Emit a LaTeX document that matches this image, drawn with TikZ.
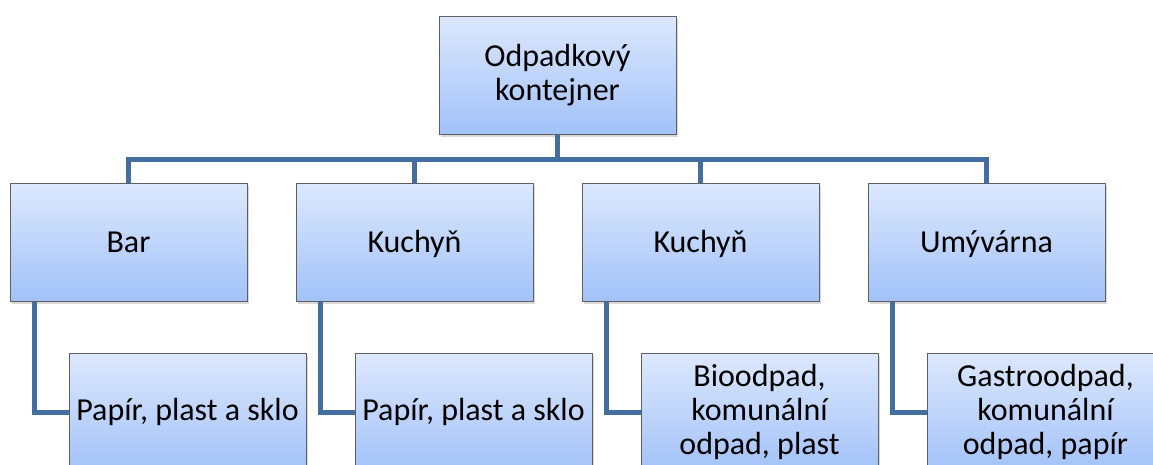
\documentclass[tikz,border=0pt]{standalone}
\usepackage{fontspec}
\setmainfont{Carlito}
\usetikzlibrary{positioning,shadows}

\definecolor{boxtop}{RGB}{221,232,253}
\definecolor{boxbot}{RGB}{162,194,249}
\definecolor{boxedge}{RGB}{95,95,95}
\definecolor{linkblue}{RGB}{66,110,160}

\begin{document}
\begin{tikzpicture}[x=1pt,y=1pt,node distance=48pt,
  box/.style={draw=boxedge,line width=1pt,top color=boxtop,bottom color=boxbot,
    minimum width=237pt,minimum height=118pt,align=center,inner sep=2pt,
    font=\fontsize{32}{34}\selectfont,
    drop shadow={shadow xshift=2pt,shadow yshift=-3pt,opacity=.3}},
  room/.style={box,text height=24pt,text depth=4pt},
  link/.style={draw=linkblue,line width=5pt}]

  \useasboundingbox (0,0) rectangle (1153,-464);

  \node[box] (top) at (557.5,-75) {Odpadkový\\kontejner};
  \coordinate (bus) at (0,-159);

  \node[room] (bar) at (128.5,-242) {Bar};
  \node[room] (kuch1) [right=of bar] {Kuchyň};
  \node[room] (kuch2) [right=of kuch1] {Kuchyň};
  \node[room] (umyv) [right=of kuch2] {Umývárna};

  \node[box,anchor=north west] (barodp) at ([shift={(59,-51)}]bar.south west) {Papír, plast a sklo};
  \node[box,anchor=north west] (kuch1odp) at ([shift={(59,-51)}]kuch1.south west) {Papír, plast a sklo};
  \node[box,anchor=north west] (kuch2odp) at ([shift={(59,-51)}]kuch2.south west) {Bioodpad,\\komunální\\odpad, plast};
  \node[box,anchor=north west] (umyvodp) at ([shift={(59,-51)}]umyv.south west) {Gastroodpad,\\komunální\\odpad, papír};

  % top level to the rooms
  \foreach \room in {bar,kuch1,kuch2,umyv}
    \draw[link] (top.south) -- (top.south |- bus) -| (\room.north);

  % rooms to their waste
  \draw[link] ([xshift=25pt]bar.south west) |- (barodp.west);
  \draw[link] ([xshift=25pt]kuch1.south west) |- (kuch1odp.west);
  \draw[link] ([xshift=25pt]kuch2.south west) |- (kuch2odp.west);
  \draw[link] ([xshift=25pt]umyv.south west) |- (umyvodp.west);
\end{tikzpicture}
\end{document}
